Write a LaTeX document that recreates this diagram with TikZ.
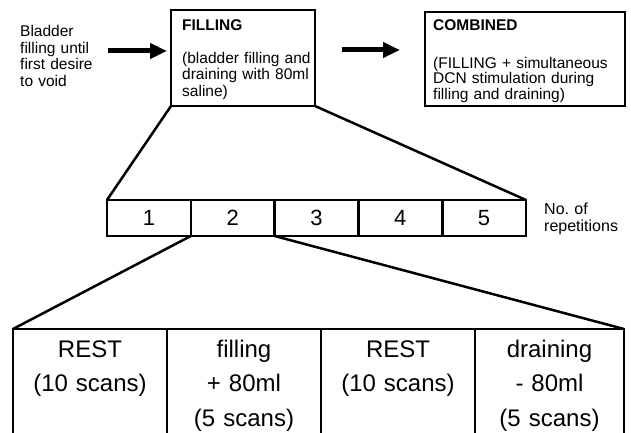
\documentclass[tikz,border=0pt]{standalone}
\usepackage{fontspec}
\setmainfont{Liberation Sans}
\usetikzlibrary{arrows.meta,positioning}

\tikzset{
  box/.style={draw, line width=2.6pt, inner sep=0pt, outer sep=0pt, anchor=north west},
  repcell/.style={draw, line width=2.6pt, inner sep=0pt, outer sep=0pt,
    minimum width=83.8pt, minimum height=36pt, font=\fontsize{22pt}{24pt}\selectfont},
  scancell/.style={draw, line width=2.2pt, inner sep=0pt, outer sep=0pt,
    minimum width=154pt, minimum height=110pt},
  txt/.style={inner sep=0pt, anchor=base west, align=left},
  scantxt/.style={inner sep=0pt, anchor=base, align=center, text width=150pt,
    font=\fontsize{24pt}{34.5pt}\selectfont},
  bigarrow/.style={line width=5pt, -{Triangle[length=17pt,width=15pt]}},
  zoomline/.style={line width=2.5pt},
}
\newcommand{\topfont}{\fontsize{15.5pt}{16.5pt}\selectfont}

\begin{document}
\begin{tikzpicture}[x=1pt,y=-1pt]
  \clip (0,0) rectangle (631,433);

  % top row
  \node[txt, text width=76pt, font=\topfont] (intro) at (20,37) {Bladder\\filling until\\first desire\\to void};
  \node[box, minimum width=144pt, minimum height=96pt] (filling) at (171,10) {};
  \node[txt, font=\topfont\bfseries] (filltitle) at (182,30.7) {FILLING};
  \node[txt, text width=130pt, font=\topfont] (filltext) at (182,63.5) {(bladder filling and\\draining with 80ml\\saline)};
  \node[box, minimum width=200pt, minimum height=94pt] (combined) at (425,12) {};
  \node[txt, font=\topfont\bfseries] (combtitle) at (433,30.7) {COMBINED};
  \node[txt, text width=185pt, font=\fontsize{15.5pt}{15.7pt}\selectfont] (combtext) at (433,68.3) {(FILLING + simultaneous\\DCN stimulation during\\filling and draining)};

  \draw[bigarrow, shorten <=12pt, shorten >=4pt] ([yshift=7pt]intro.east |- filling.west) -- ([yshift=7pt]filling.west);
  \draw[bigarrow, shorten <=27pt, shorten >=25pt] ([yshift=8pt]filling.east) -- ([yshift=8pt]filling.east -| combined.west);

  % repetitions
  \node[repcell, anchor=north west] (r1) at (107,200) {1};
  \node[repcell, right=0pt of r1] (r2) {2};
  \node[repcell, right=0pt of r2] (r3) {3};
  \node[repcell, right=0pt of r3] (r4) {4};
  \node[repcell, right=0pt of r4] (r5) {5};
  \node[txt, text width=80pt, font=\fontsize{16pt}{17.4pt}\selectfont] (reps) at (544,214.3) {No.\ of\\repetitions};

  \draw[zoomline] (filling.south west) -- (r1.north west);
  \draw[zoomline] (filling.south east) -- (r5.north east);

  % one repetition
  \node[scancell, anchor=north west] (t1) at (13,329) {};
  \node[scancell, right=0pt of t1] (t2) {};
  \node[scancell, right=0pt of t2] (t3) {};
  \node[scancell, right=0pt of t3, minimum width=149pt] (t4) {};
  \node[scantxt] (t1txt) at ([yshift=-28pt]t1.north) {REST\\(10 scans)};
  \node[scantxt] (t2txt) at ([yshift=-28pt]t2.north) {filling\\+ 80ml\\(5 scans)};
  \node[scantxt] (t3txt) at ([yshift=-28pt]t3.north) {REST\\(10 scans)};
  \node[scantxt] (t4txt) at ([yshift=-28pt]t4.north) {draining\\- 80ml\\(5 scans)};

  \draw[zoomline] (r2.south west) -- (t1.north west);
  \draw[zoomline] (r3.south west) -- (t4.north east);
\end{tikzpicture}
\end{document}
